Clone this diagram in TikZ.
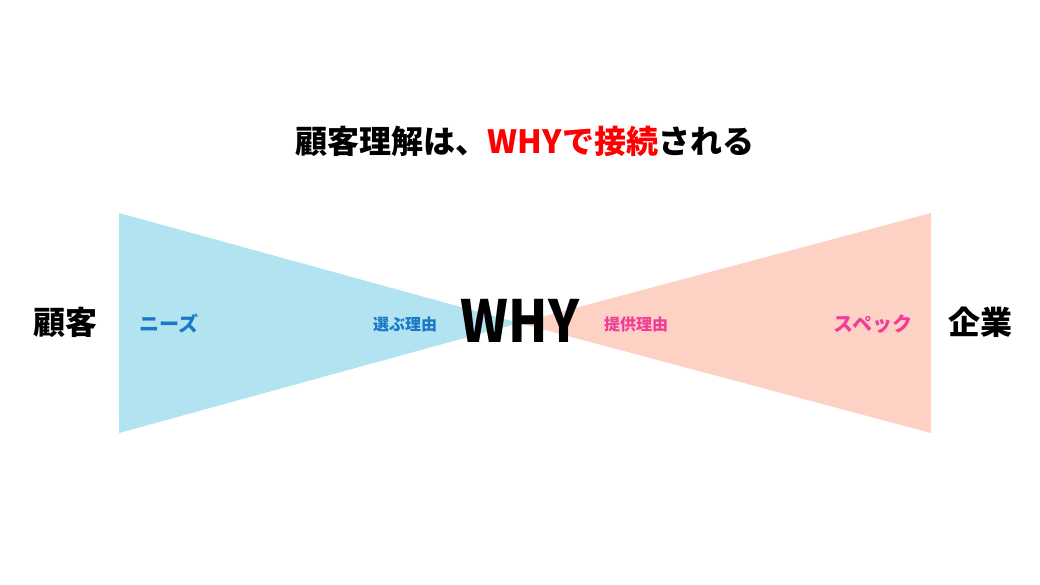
\documentclass[tikz,border=0pt]{standalone}
\usepackage{fontspec}
\newfontfamily\jp{Noto Sans CJK JP}
\definecolor{bluefill}{HTML}{B1E3F1}
\definecolor{pinkfill}{HTML}{FDD1C3}
\definecolor{bluetext}{HTML}{1A78C6}
\definecolor{pinktext}{HTML}{F23C9A}
\definecolor{titlered}{HTML}{FF0000}
\tikzset{
  lbl/.style={font=\jp\bfseries\fontsize{#1}{#1}\selectfont, inner sep=0pt, anchor=center},
}
\begin{document}
\begin{tikzpicture}[x=1pt,y=-1pt]
\useasboundingbox (0,0) rectangle (1040,584);
\fill[white] (0,0) rectangle (1040,584);
\coordinate (apex) at (519,323);
\coordinate (lt) at (119,213);
\coordinate (lb) at (119,433);
\coordinate (rt) at (931,213);
\coordinate (rb) at (931,433);
\fill[bluefill] (lt) -- (apex) -- (lb) -- cycle;
\fill[pinkfill] (rt) -- (apex) -- (rb) -- cycle;
\node[lbl=32] (title) at (525,141) {顧客理解は、\textcolor{titlered}{WHYで接続}される};
\node[lbl=58, xscale=0.88, transform shape] (why) at (520,321) {WHY};
\node[lbl=32] (cust) at (65,322) {顧客};
\node[lbl=32] (corp) at (980,322) {企業};
\node[lbl=20, text=bluetext] (needs) at (169,324) {ニーズ};
\node[lbl=16, text=bluetext] (choose) at (405,324) {選ぶ理由};
\node[lbl=16, text=pinktext] (offer) at (636,324) {提供理由};
\node[lbl=20, text=pinktext] (spec) at (873,324) {スペック};
\end{tikzpicture}
\end{document}
